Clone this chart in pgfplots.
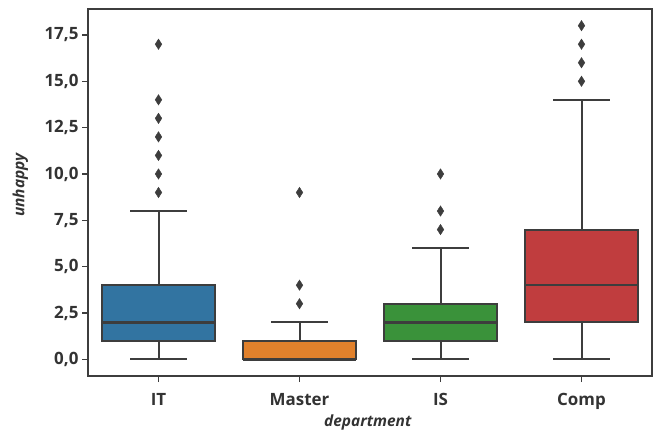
\documentclass[border=0pt]{standalone}
\usepackage{fontspec}
\setmainfont{Open Sans}
\usepackage{pgfplots}
\pgfplotsset{compat=1.18}
\usepgfplotslibrary{statistics}
\definecolor{cIT}{HTML}{3274A1}
\definecolor{cMa}{HTML}{E1812C}
\definecolor{cIS}{HTML}{3A923A}
\definecolor{cCo}{HTML}{C03D3E}
\definecolor{edge}{HTML}{3D3D3D}
\definecolor{txt}{HTML}{333333}
\begin{document}
\begin{tikzpicture}
\useasboundingbox (0,0) rectangle (654bp,432bp);
\begin{axis}[
  at={(88bp,56bp)}, anchor=south west,
  scale only axis, width=564bp, height=367bp,
  xmin=-0.5, xmax=3.5, ymin=-0.9, ymax=18.9,
  xtick={0,1,2,3}, xticklabels={IT,Master,IS,Comp},
  ytick={0,2.5,5,7.5,10,12.5,15,17.5},
  yticklabel style={/pgf/number format/.cd, fixed, fixed zerofill, precision=1, use comma, assume math mode=true},
  tick align=outside, major tick length=6bp,
  tick style={edge, line width=1.2bp},
  axis line style={edge, line width=1.2bp},
  xtick pos=bottom, ytick pos=left,
  ticklabel style={font=\fontsize{17}{20}\selectfont\bfseries, text=txt},
  xticklabel style={yshift=-8bp},
  xlabel={department}, ylabel={unhappy},
  label style={font=\fontsize{15.5}{18}\selectfont\bfseries\itshape, text=txt},
  xlabel style={at={(axis description cs:0.496,-0.128)}, anchor=center},
  ylabel style={at={(axis description cs:-0.12,0.52)}, anchor=center},
  boxplot/draw direction=y,
  boxplot/box extend=0.8, boxplot/whisker extend=0.4,
  every boxplot/.style={draw=edge, line width=2bp, mark=diamond*, mark size=5.2bp, mark options={fill=edge, draw=edge, line width=0.4bp, xscale=0.85}},
  boxplot/every box/.style={draw=edge, line width=2bp},
  boxplot/every whisker/.style={draw=edge, line width=2bp},
  boxplot/every median/.style={draw=edge, line width=2.6bp},
]
\addplot[boxplot prepared={lower whisker=0, lower quartile=1, median=2, upper quartile=4, upper whisker=8, draw position=0}, fill=cIT]
  table[row sep=\\, y index=0] {9\\10\\11\\12\\13\\14\\17\\};
\addplot[boxplot prepared={lower whisker=0, lower quartile=0, median=0, upper quartile=1, upper whisker=2, draw position=1}, fill=cMa]
  table[row sep=\\, y index=0] {3\\4\\9\\};
\addplot[boxplot prepared={lower whisker=0, lower quartile=1, median=2, upper quartile=3, upper whisker=6, draw position=2}, fill=cIS]
  table[row sep=\\, y index=0] {7\\8\\10\\};
\addplot[boxplot prepared={lower whisker=0, lower quartile=2, median=4, upper quartile=7, upper whisker=14, draw position=3}, fill=cCo]
  table[row sep=\\, y index=0] {15\\16\\17\\18\\};
\end{axis}
\end{tikzpicture}
\end{document}
